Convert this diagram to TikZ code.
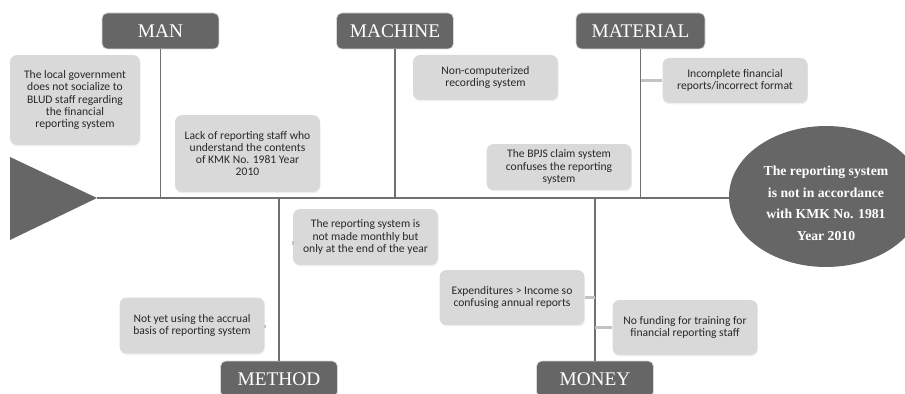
\documentclass[tikz,border=0pt]{standalone}
\usepackage{fontspec}
\setmainfont{Liberation Serif}
\newfontfamily\causefont{Carlito}
\usetikzlibrary{positioning,shapes.geometric,calc,shadows}
\definecolor{headgray}{RGB}{102,102,102}
\definecolor{boxgray}{RGB}{217,217,217}
\definecolor{bonegray}{RGB}{112,112,112}
\definecolor{linkgray}{RGB}{195,195,195}
\definecolor{textgray}{RGB}{40,40,40}
\tikzset{
  category/.style={draw=white!75!headgray,line width=0.4pt,rounded corners=3pt,fill=headgray,text=white,minimum width=2.34cm,minimum height=0.72cm,inner sep=0pt,font=\fontsize{11}{12}\selectfont},
  cause/.style={fill=boxgray,rounded corners=4pt,text=textgray,align=center,inner sep=0pt,minimum width=2.9cm,minimum height=1.1cm,font=\causefont\fontsize{6.6}{7.0}\selectfont,
    drop shadow={opacity=0.12,shadow xshift=0.3pt,shadow yshift=-0.8pt}},
  effect/.style={ellipse,fill=headgray,text=white,align=center,inner sep=0pt,minimum width=3.88cm,minimum height=2.82cm,font=\bfseries\fontsize{7.8}{12.2}\selectfont},
  bone/.style={draw=bonegray,line width=1.1pt},
  link/.style={draw=linkgray,line width=1.2pt}
}
\begin{document}
\begin{tikzpicture}[x=0.02cm,y=-0.02cm]
  \useasboundingbox (0,0) rectangle (905,394);
  % head and spine
  \fill[headgray] (10,157) -- (97,198) -- (10,240) -- cycle;
  \coordinate (tail) at (97,198);
  \node[effect] (problem) at (826,196.5) {\\[1pt]The reporting system\\is not in accordance\\with KMK No. 1981\\Year 2010};
  \draw[bone] (tail) -- (tail -| problem.west);

  % categories
  \node[category] (man) at (160.5,31) {MAN};
  \node[category] (machine) at (395,31) {MACHINE};
  \node[category,minimum width=2.58cm] (material) at (640.5,31) {MATERIAL};
  \node[category] (method) at (279,379) {METHOD};
  \node[category] (money) at (595,379) {MONEY};
  \foreach \c in {man,machine,material,method,money}
    \draw[bone] (\c) -- (\c |- tail);

  % causes
  \node[cause,minimum width=2.6cm,minimum height=1.8cm] (manA) at (75,100)
    {The local government\\does not socialize to\\BLUD staff regarding\\the financial\\reporting system};
  \node[cause,minimum height=1.54cm] (manB) at (247.5,153.5)
    {Lack of reporting staff who\\understand the contents\\of KMK No. 1981 Year\\2010};
  \node[cause,minimum height=0.9cm] (machineA) at (485.5,77.5)
    {Non-computerized\\recording system};
  \node[cause,minimum height=0.9cm] (materialA) at (735,80.5)
    {Incomplete financial\\reports/incorrect format};
  \node[cause,minimum height=0.92cm] (materialB) at (559,167)
    {The BPJS claim system\\confuses the reporting\\system};
  \node[cause,minimum height=1.12cm] (methodA) at (365.5,237)
    {The reporting system is\\not made monthly but\\only at the end of the year};
  \node[cause,minimum height=1.12cm] (methodB) at (192,325.5)
    {Not yet using the accrual\\basis of reporting system};
  \node[cause] (moneyA) at (512,297.5)
    {Expenditures > Income so\\confusing annual reports};
  \node[cause] (moneyB) at (685,327.5)
    {No funding for training for\\financial reporting staff};

  % links to the bones
  \draw[link] ($(manA.east)+(0,-5)$) -- ($(manA.east)+(0,-5)$ -| man);
  \draw[link] ($(manB.west)+(0,6)$) -- ($(manB.west)+(0,6)$ -| man);
  \draw[link] ($(machineA.west)+(0,10)$) -- ($(machineA.west)+(0,10)$ -| machine);
  \draw[link] (materialA.west) -- (materialA.west -| material);
  \draw[link] ($(materialB.east)+(0,-2)$) -- ($(materialB.east)+(0,-2)$ -| material);
  \draw[link] ($(methodA.west)+(0,4)$) -- ($(methodA.west)+(0,8)$ -| method);
  \draw[link] (methodB.east) -- ($(methodB.east)+(0,3)$ -| method);
  \draw[link] (moneyA.east) -- (moneyA.east -| money);
  \draw[link] (moneyB.west) -- (moneyB.west -| money);
\end{tikzpicture}
\end{document}
